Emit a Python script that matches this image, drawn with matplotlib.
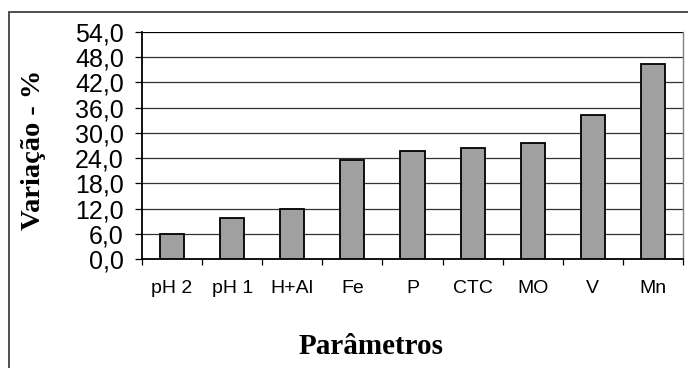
import matplotlib.pyplot as plt
from matplotlib.patches import Rectangle

# Parameters and their coefficient of variation (%)
parametros = ['pH 2', 'pH 1', 'H+Al', 'Fe', 'P', 'CTC', 'MO', 'V', 'Mn']
variacao = [5.9, 9.8, 12.0, 23.6, 25.8, 26.3, 27.5, 34.3, 46.3]
y_ticks = [0, 6, 12, 18, 24, 30, 36, 42, 48, 54]
y_labels = ['%.1f' % v for v in y_ticks]
y_labels = [s.replace('.', ',') for s in y_labels]

W, H = 688, 368
fig = plt.figure(figsize=(W / 100, H / 100), dpi=100)

# outer chart frame (only left and top edges are visible)
fig.patches.append(Rectangle((9 / W, -0.1), 1.2, 1 - 12 / H + 0.1,
                             transform=fig.transFigure, fill=False,
                             edgecolor='#404040', linewidth=1.3))

ax = fig.add_axes([142 / W, (H - 259) / H, 541 / W, 227 / H])

x = range(len(parametros))
ax.bar(x, variacao, width=0.4, color='#a0a0a0', edgecolor='black',
       linewidth=1.3, zorder=3)

ax.set_xlim(-0.5, len(parametros) - 0.5)
ax.set_ylim(0, 54)

# horizontal gridlines
for v in y_ticks[1:]:
    ax.axhline(v, color='#333333' if v != 54 else 'black', linewidth=0.9, zorder=1)

ax.set_yticks(y_ticks)
ax.set_yticklabels(y_labels, fontfamily='Liberation Sans', fontsize=18)
ax.set_xticks(x)
ax.set_xticklabels(parametros, fontfamily='Liberation Sans', fontsize=14)
ax.tick_params(axis='x', length=0, pad=15)
ax.tick_params(axis='y', length=5, width=0.9, pad=8)

# ticks on the category boundaries
ax.set_xticks([i - 0.5 for i in range(len(parametros) + 1)], minor=True)
ax.tick_params(axis='x', which='minor', length=4, width=0.9)

for s in ['left', 'bottom']:
    ax.spines[s].set_linewidth(1.3)
    ax.spines[s].set_color('black')
ax.spines['top'].set_visible(False)
ax.spines['right'].set_color('#808080')
ax.spines['right'].set_linewidth(1.0)

fig.text(34 / W, 1 - 150 / H, 'Variação - %', rotation=90, ha='center', va='center',
         fontfamily='Liberation Serif', fontweight='bold', fontsize=20.5)
fig.text(371 / W, 1 - 347 / H, 'Parâmetros', ha='center', va='center',
         fontfamily='Liberation Serif', fontweight='bold', fontsize=21)

fig.savefig('out.png', dpi=100)
